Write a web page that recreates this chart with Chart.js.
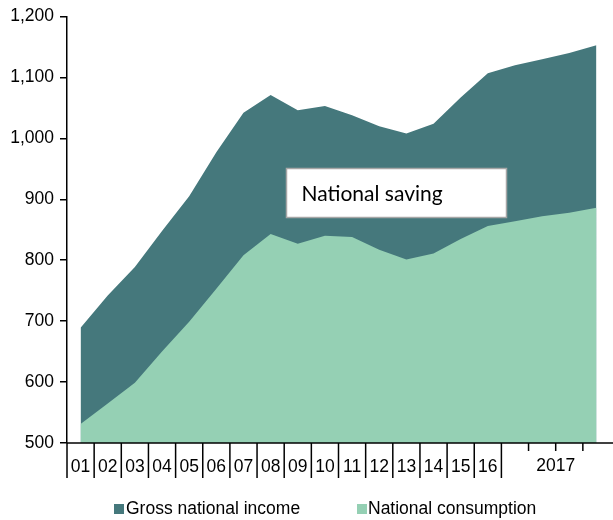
<!DOCTYPE html>
<html>
<head>
<meta charset="utf-8">
<script src="https://cdn.jsdelivr.net/npm/chart.js@4.4.1/dist/chart.umd.min.js"></script>
<style>
    body { margin: 0; background: #fff; }
    #wrap { position: relative; width: 613px; height: 520px; }
</style>
</head>
<body>
<div id="wrap"><canvas id="savingChart"></canvas></div>
<script>
// categories: years 2001-2016, then the four quarters of 2017
const years = ['01', '02', '03', '04', '05', '06', '07', '08', '09', '10', '11', '12', '13', '14', '15', '16'];
const quarters = ['2017 Q1', '2017 Q2', '2017 Q3', '2017 Q4'];
const quarterLabel = '2017';
const categories = years.concat(quarters);

const grossIncome = [689, 742, 789, 848, 905, 977, 1042, 1071, 1046, 1053, 1038, 1020, 1008, 1024, 1067, 1107, 1120, 1130, 1140, 1153];
const consumption = [531, 565, 599, 650, 699, 753, 808, 843, 827, 840, 838, 817, 801, 811, 835, 856, 864, 872, 878, 886];

const yMin = 500;
const yMax = 1200;
const yStep = 100;

const seriesNames = ['Gross national income', 'National consumption'];
const noteText = 'National saving';

const dark = '#45787c';
const light = '#95d0b4';
const font = '"Liberation Sans", Arial, sans-serif';

// separators under the x axis, the "2017" label, the note box and the legend
const extras = {
    id: 'extras',
    afterDraw(chart) {
        const ctx = chart.ctx;
        const x = chart.scales.x;
        const area = chart.chartArea;
        ctx.save();

        // x axis line
        ctx.strokeStyle = '#000';
        ctx.lineWidth = 1.5;
        ctx.beginPath();
        ctx.moveTo(area.left, area.bottom);
        ctx.lineTo(chart.width, area.bottom);
        ctx.stroke();

        for (let i = 0; i < categories.length; i++) {
            let px = x.getPixelForValue(i - 0.5);
            let len = i <= years.length ? 35 : 8;
            ctx.beginPath();
            ctx.moveTo(px, area.bottom);
            ctx.lineTo(px, area.bottom + len);
            ctx.stroke();
        }

        let qMid = (x.getPixelForValue(years.length - 0.5) + x.getPixelForValue(categories.length - 0.5)) / 2;
        ctx.fillStyle = '#000';
        ctx.font = '17.5px ' + font;
        ctx.textAlign = 'center';
        ctx.textBaseline = 'top';
        ctx.fillText(quarterLabel, qMid, area.bottom + 14);

        // note box
        ctx.fillStyle = '#fff';
        ctx.strokeStyle = '#a6a6a6';
        ctx.lineWidth = 1.5;
        ctx.fillRect(286.5, 168.5, 220, 49);
        ctx.strokeRect(286.5, 168.5, 220, 49);
        ctx.fillStyle = '#000';
        ctx.font = '21px Lato, "Open Sans", sans-serif';
        ctx.textAlign = 'left';
        ctx.textBaseline = 'alphabetic';
        ctx.fillText(noteText, 301.5, 200.5);

        // legend
        ctx.font = '17.5px ' + font;
        ctx.textBaseline = 'middle';
        ctx.fillStyle = dark;
        ctx.fillRect(114, 504, 10, 10);
        ctx.fillStyle = light;
        ctx.fillRect(357, 504, 10, 10);
        ctx.fillStyle = '#000';
        ctx.fillText(seriesNames[0], 126, 509);
        ctx.fillText(seriesNames[1], 368, 509);

        ctx.restore();
    }
};

let chart = new Chart(document.getElementById('savingChart'), {
    type: 'line',
    data: {
        labels: categories,
        datasets: [{
            label: seriesNames[1],
            data: consumption,
            backgroundColor: light,
            borderWidth: 0,
            pointRadius: 0,
            fill: 'start'
        }, {
            label: seriesNames[0],
            data: grossIncome,
            backgroundColor: dark,
            borderWidth: 0,
            pointRadius: 0,
            fill: 'start'
        }]
    },
    options: {
        responsive: true,
        maintainAspectRatio: false,
        animation: false,
        layout: { padding: { top: 4, right: 3, left: 0, bottom: 0 } },
        plugins: {
            legend: { display: false },
            tooltip: { enabled: false }
        },
        scales: {
            x: {
                offset: true,
                grid: { display: false, drawTicks: false },
                border: { display: false },
                ticks: {
                    autoSkip: false,
                    maxRotation: 0,
                    padding: 14,
                    color: '#000',
                    font: { family: font, size: 17.5 },
                    callback: (v, i) => i < years.length ? categories[i] : ''
                },
                afterFit: (scale) => { scale.height = 77; }
            },
            y: {
                min: yMin,
                max: yMax,
                grid: { drawOnChartArea: false, tickLength: 7, color: '#000', lineWidth: 1.5 },
                border: { color: '#000', width: 1.5 },
                ticks: {
                    stepSize: yStep,
                    padding: 6,
                    color: '#000',
                    font: { family: font, size: 17.5 },
                    callback: (v) => v.toLocaleString('en-US')
                },
                afterFit: (scale) => { scale.width = 67; }
            }
        }
    },
    plugins: [extras]
});
</script>
</body>
</html>
